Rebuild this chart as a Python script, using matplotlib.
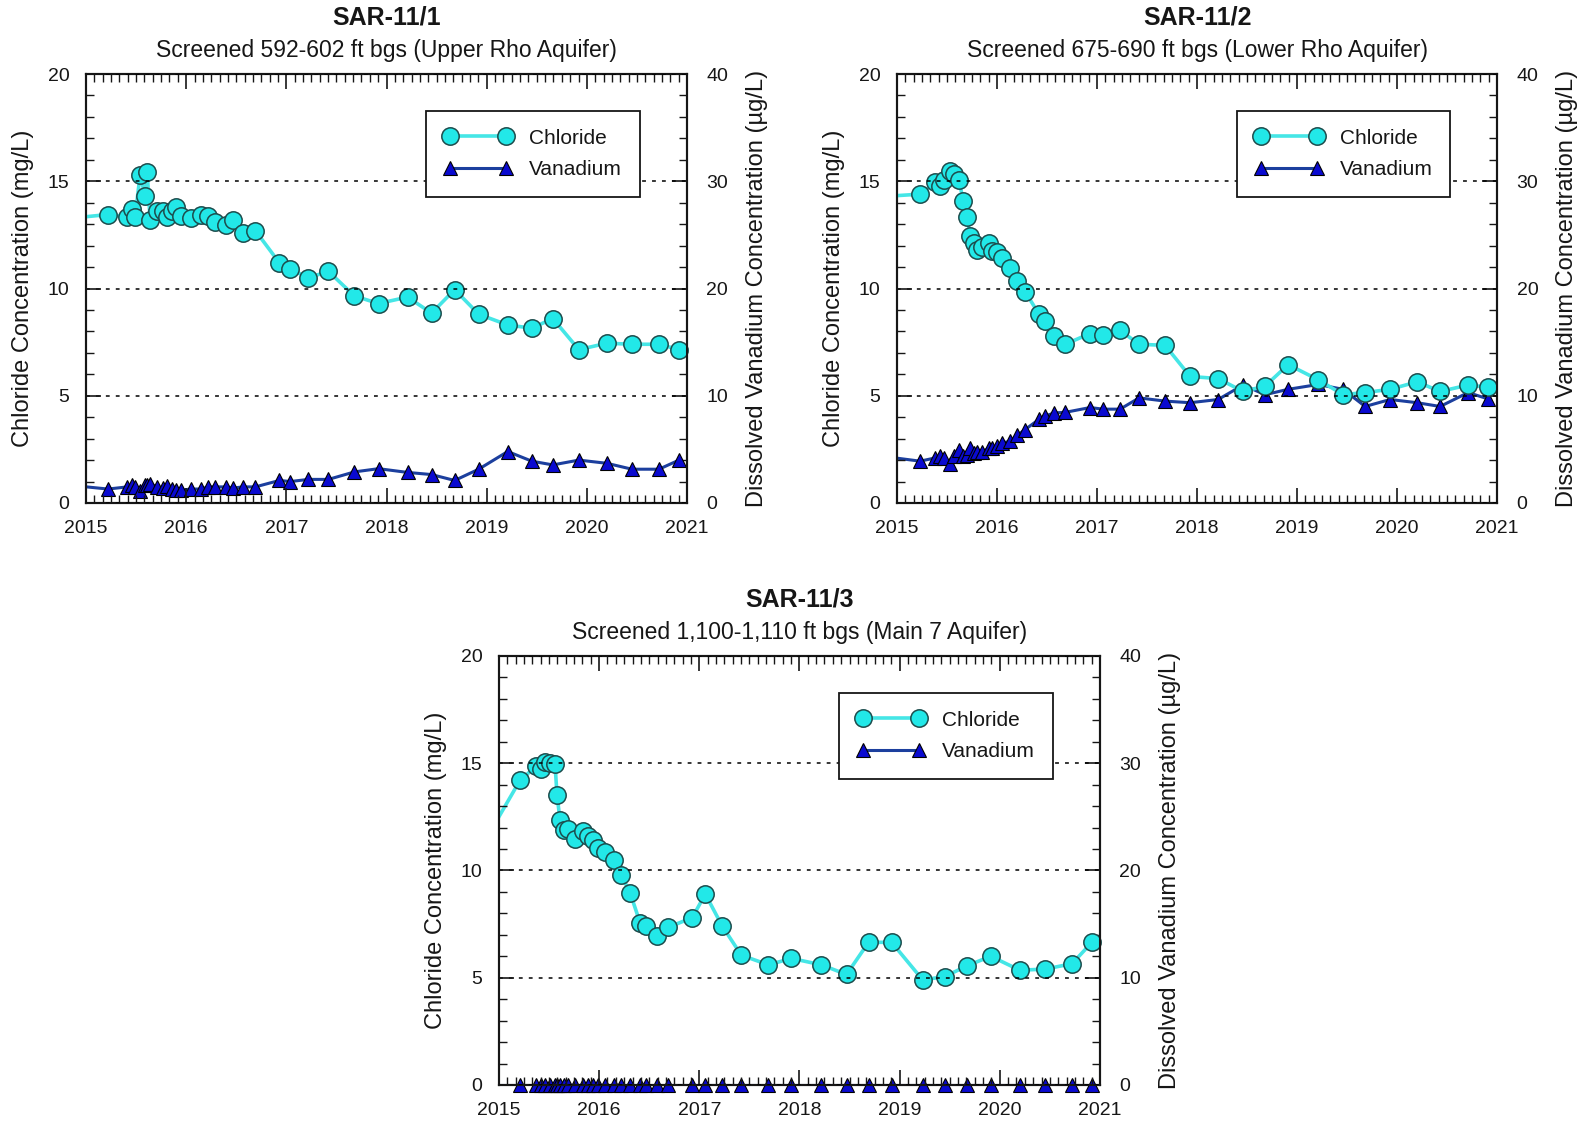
import matplotlib
matplotlib.use('Agg')
import matplotlib.pyplot as plt
from matplotlib.lines import Line2D
from matplotlib.ticker import MultipleLocator

plt.rcParams['font.family'] = ['Liberation Sans', 'DejaVu Sans']

# decimal-year sample dates; first entry is the last sample before 2015 (clipped by the axis)
dates_1 = [2014.90, 2015.22, 2015.41, 2015.46, 2015.49, 2015.54, 2015.59, 2015.61, 2015.64,
           2015.71, 2015.77, 2015.81, 2015.86, 2015.90, 2015.95, 2016.05, 2016.15, 2016.22,
           2016.29, 2016.40, 2016.47, 2016.57, 2016.69, 2016.93, 2017.04, 2017.22, 2017.42,
           2017.68, 2017.92, 2018.21, 2018.45, 2018.68, 2018.92, 2019.21, 2019.45, 2019.66,
           2019.92, 2020.20, 2020.45, 2020.72, 2020.92]
chloride_1 = [13.3, 13.45, 13.35, 13.7, 13.35, 15.3, 14.3, 15.45, 13.2,
              13.6, 13.6, 13.35, 13.6, 13.8, 13.4, 13.3, 13.45, 13.4,
              13.1, 12.95, 13.2, 12.6, 12.7, 11.2, 10.9, 10.5, 10.8,
              9.65, 9.3, 9.6, 8.85, 9.95, 8.8, 8.3, 8.15, 8.6,
              7.15, 7.45, 7.4, 7.4, 7.15]
vanadium_1 = [1.6, 1.3, 1.5, 1.7, 1.5, 1.1, 1.7, 1.7, 1.8,
              1.5, 1.4, 1.6, 1.3, 1.2, 1.2, 1.3, 1.3, 1.5,
              1.5, 1.5, 1.4, 1.5, 1.5, 2.1, 2.0, 2.2, 2.2,
              2.9, 3.2, 2.85, 2.65, 2.1, 3.15, 4.8, 3.9, 3.55,
              4.0, 3.7, 3.15, 3.15, 4.0]

dates_2 = [2014.90, 2015.23, 2015.38, 2015.43, 2015.47, 2015.53, 2015.57, 2015.62, 2015.66,
           2015.70, 2015.73, 2015.77, 2015.80, 2015.85, 2015.92, 2015.95, 2016.00, 2016.05,
           2016.13, 2016.20, 2016.28, 2016.42, 2016.48, 2016.57, 2016.68, 2016.93, 2017.06,
           2017.23, 2017.42, 2017.68, 2017.93, 2018.21, 2018.46, 2018.68, 2018.91, 2019.21,
           2019.46, 2019.68, 2019.93, 2020.20, 2020.43, 2020.71, 2020.91]
chloride_2 = [14.3, 14.4, 14.95, 14.8, 15.05, 15.5, 15.35, 15.05, 14.1,
              13.35, 12.45, 12.1, 11.8, 11.95, 12.1, 11.75, 11.7, 11.4,
              10.95, 10.35, 9.85, 8.8, 8.5, 7.8, 7.4, 7.9, 7.85,
              8.05, 7.4, 7.35, 5.9, 5.8, 5.2, 5.45, 6.45, 5.75,
              5.05, 5.15, 5.3, 5.65, 5.2, 5.5, 5.4]
vanadium_2 = [4.3, 3.9, 4.2, 4.35, 4.2, 3.6, 4.35, 4.9, 4.35,
              4.5, 5.1, 4.7, 4.8, 4.8, 5.1, 5.1, 5.3, 5.6,
              5.75, 6.3, 6.85, 7.8, 8.1, 8.4, 8.45, 8.9, 8.75,
              8.75, 9.8, 9.5, 9.35, 9.65, 11.0, 10.1, 10.6, 11.05,
              10.6, 9.0, 9.65, 9.35, 9.0, 10.3, 9.7]

dates_3 = [2014.90, 2015.21, 2015.37, 2015.42, 2015.46, 2015.51, 2015.56, 2015.58, 2015.61,
           2015.65, 2015.69, 2015.76, 2015.84, 2015.89, 2015.94, 2015.99, 2016.06, 2016.15,
           2016.22, 2016.31, 2016.41, 2016.47, 2016.58, 2016.69, 2016.93, 2017.06, 2017.23,
           2017.42, 2017.69, 2017.92, 2018.22, 2018.47, 2018.69, 2018.92, 2019.23, 2019.45,
           2019.67, 2019.91, 2020.20, 2020.45, 2020.72, 2020.92]
chloride_3 = [11.7, 14.2, 14.85, 14.75, 15.05, 15.0, 14.95, 13.5, 12.35,
              11.9, 11.95, 11.45, 11.85, 11.6, 11.4, 11.05, 10.85, 10.5,
              9.8, 8.95, 7.55, 7.4, 6.95, 7.35, 7.8, 8.9, 7.4,
              6.05, 5.6, 5.9, 5.6, 5.15, 6.65, 6.65, 4.9, 5.05,
              5.55, 6.0, 5.35, 5.4, 5.65, 6.65]
vanadium_3 = [0.0] * len(dates_3)

titles = ['SAR-11/1', 'SAR-11/2', 'SAR-11/3']
subtitles = ['Screened 592-602 ft bgs (Upper Rho Aquifer)',
             'Screened 675-690 ft bgs (Lower Rho Aquifer)',
             'Screened 1,100-1,110 ft bgs (Main 7 Aquifer)']
years = [2015, 2016, 2017, 2018, 2019, 2020, 2021]

cl_face = '#22e8e8'
cl_edge = '#1c4c4c'
cl_line = '#45e6e6'
v_face = '#0a0ad0'
v_line = '#1c3f9e'
ink = '#161616'

fig = plt.figure(figsize=(15.9, 11.25), dpi=100)
positions = [[0.0541, 0.5529, 0.378, 0.3813],
             [0.5642, 0.5529, 0.3774, 0.3813],
             [0.3138, 0.0356, 0.378, 0.3813]]
panels = [(dates_1, chloride_1, vanadium_1),
          (dates_2, chloride_2, vanadium_2),
          (dates_3, chloride_3, vanadium_3)]

for i, (d, cl, va) in enumerate(panels):
    ax = fig.add_axes(positions[i])
    ax2 = ax.twinx()
    ax.set_zorder(2)
    ax2.set_zorder(1)
    ax.patch.set_visible(False)

    # lines (clipped), then markers for in-range samples (not clipped)
    ax2.plot(d, va, '-', color=v_line, lw=2.2)
    ax2.plot(d[1:], va[1:], '^', ms=9.5, mfc=v_face, mec='black', mew=0.8, clip_on=False)
    ax.plot(d, cl, '-', color=cl_line, lw=2.6)
    ax.plot(d[1:], cl[1:], 'o', ms=12.5, mfc=cl_face, mec=cl_edge, mew=1.1, clip_on=False)

    ax.set_xlim(2015, 2021)
    ax.set_ylim(0, 20)
    ax2.set_ylim(0, 40)
    ax.set_xticks(years)
    ax.xaxis.set_minor_locator(MultipleLocator(1 / 12))
    ax.yaxis.set_major_locator(MultipleLocator(5))
    ax.yaxis.set_minor_locator(MultipleLocator(1))
    ax2.yaxis.set_major_locator(MultipleLocator(10))
    ax2.yaxis.set_minor_locator(MultipleLocator(2))

    ax.tick_params(axis='x', which='both', direction='in', top=True, bottom=True, labelsize=14, pad=12)
    ax.tick_params(axis='y', which='both', direction='in', left=True, right=False, labelsize=14, pad=12)
    ax2.tick_params(axis='y', which='both', direction='in', right=True, labelsize=14, pad=14)
    for a in (ax, ax2):
        a.tick_params(which='major', length=11, width=1.2, color=ink, labelcolor=ink)
        a.tick_params(which='minor', length=6, width=1.0, color=ink)
        for s in a.spines.values():
            s.set_linewidth(1.5)
            s.set_color(ink)

    ax.grid(True, axis='y', which='major', color='black', linestyle=(0, (2.5, 4)), linewidth=1.1)
    ax.set_axisbelow(False)

    ax.set_ylabel('Chloride Concentration (mg/L)', fontsize=17, color=ink)
    ax2.set_ylabel('Dissolved Vanadium Concentration (\u00b5g/L)', fontsize=17, color=ink)
    ax.yaxis.set_label_coords(-0.087, 0.5)
    ax2.yaxis.set_label_coords(1.098, 0.5)

    ax.text(0.5, 1.132, titles[i], transform=ax.transAxes, ha='center', va='center',
            fontsize=18, fontweight='bold', color=ink)
    ax.text(0.5, 1.054, subtitles[i], transform=ax.transAxes, ha='center', va='center',
            fontsize=16.5, color=ink)

    h_cl = Line2D([], [], color=cl_line, lw=2.6, marker='o', ms=12.5, mfc=cl_face, mec=cl_edge, mew=1.1)
    h_v = Line2D([], [], color=v_line, lw=2.2, marker='^', ms=9.5, mfc=v_face, mec='black', mew=0.8)
    leg = ax.legend([h_cl, h_v], ['Chloride', 'Vanadium'], loc='upper left',
                    bbox_to_anchor=(0.566, 0.914), borderaxespad=0, fontsize=15,
                    numpoints=2, handlelength=3.3, handletextpad=0.8, borderpad=0.85,
                    labelspacing=0.6, fancybox=False, framealpha=1, edgecolor=ink)
    leg.get_frame().set_linewidth(1.3)
    for t in leg.get_texts():
        t.set_color(ink)

plt.savefig('out.png', dpi=100)
